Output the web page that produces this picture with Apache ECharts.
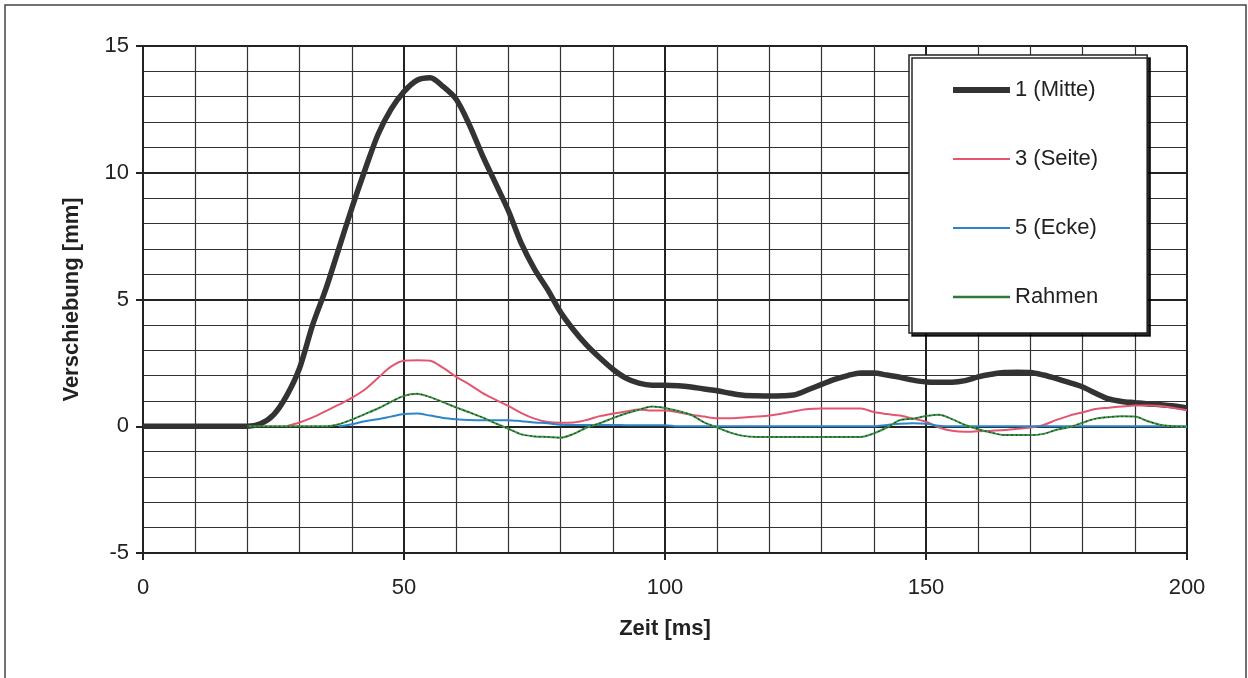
<!DOCTYPE html>
<html>
<head>
<meta charset="utf-8">
<script src="https://cdn.jsdelivr.net/npm/echarts@6/dist/echarts.min.js"></script>
<style>
  html, body { margin: 0; padding: 0; background: #fff; }
  #chart { width: 1248px; height: 678px; }
</style>
</head>
<body>
<div id="chart"></div>
<script>
// Zeitbasis in ms (Schrittweite 2,5 ms)
const zeit = [];
for (let i = 0; i <= 80; i++) zeit.push(i * 2.5);

// Verschiebung [mm], Messpunkt 1 (Mitte)
const mitte = [
  0, 0, 0, 0, 0, 0, 0, 0, 0, 0.1,
  0.45, 1.2, 2.3, 4.0, 5.4, 7.0, 8.6, 10.1, 11.5, 12.5,
  13.2, 13.65, 13.75, 13.4, 12.9, 11.9, 10.7, 9.6, 8.5, 7.2,
  6.2, 5.4, 4.5, 3.8, 3.2, 2.7, 2.25, 1.9, 1.7, 1.62,
  1.62, 1.6, 1.55, 1.47, 1.4, 1.3, 1.22, 1.2, 1.19, 1.2,
  1.25, 1.45, 1.65, 1.85, 2.0, 2.1, 2.1, 2.02, 1.93, 1.82,
  1.75, 1.74, 1.74, 1.8, 1.95, 2.05, 2.12, 2.13, 2.12, 2.02,
  1.88, 1.72, 1.55, 1.3, 1.08, 0.98, 0.93, 0.88, 0.85, 0.8,
  0.72
];

// Messpunkt 3 (Seite)
const seite = [
  null, null, null, null, null, null, null, null, null, null,
  null, 0.0, 0.15, 0.35, 0.6, 0.85, 1.12, 1.45, 1.9, 2.35,
  2.58, 2.6, 2.58, 2.3, 1.95, 1.65, 1.32, 1.05, 0.8, 0.52,
  0.3, 0.17, 0.14, 0.15, 0.25, 0.4, 0.5, 0.58, 0.66, 0.62,
  0.62, 0.55, 0.45, 0.38, 0.32, 0.32, 0.35, 0.38, 0.42, 0.5,
  0.6, 0.68, 0.7, 0.7, 0.7, 0.7, 0.56, 0.48, 0.42, 0.3,
  0.18, -0.05, -0.18, -0.22, -0.2, -0.18, -0.15, -0.1, -0.05, 0.05,
  0.25, 0.42, 0.55, 0.68, 0.73, 0.78, 0.82, 0.82, 0.8, 0.72,
  0.63
];

// Messpunkt 5 (Ecke)
const ecke = [
  null, null, null, null, null, null, null, null, null, null,
  null, null, null, null, null, 0.0, 0.08, 0.2, 0.28, 0.38,
  0.48, 0.5, 0.42, 0.33, 0.28, 0.25, 0.24, 0.24, 0.24, 0.2,
  0.15, 0.12, 0.06, 0.05, 0.05, 0.05, 0.05, 0.04, 0.04, 0.04,
  0.04, 0.0, 0.0, 0.0, 0.0, 0.0, 0.0, 0.0, 0.0, 0.0,
  0.0, 0.0, 0.0, 0.0, 0.0, 0.0, 0.0, 0.05, 0.1, 0.12,
  0.1, 0.02, 0.0, 0.0, 0.0, 0.0, 0.0, 0.0, 0.0, 0.0,
  0.0, 0.0, 0.0, 0.0, 0.0, 0.0, 0.0, 0.0, 0.0, 0.0,
  0.0
];

// Rahmen
const rahmen = [
  null, null, null, null, null, null, null, null, 0, 0,
  0, 0, 0, 0, 0, 0.08, 0.26, 0.48, 0.7, 0.96,
  1.2, 1.28, 1.15, 0.95, 0.74, 0.55, 0.35, 0.12, -0.1, -0.32,
  -0.4, -0.42, -0.45, -0.3, -0.05, 0.12, 0.32, 0.5, 0.65, 0.78,
  0.72, 0.6, 0.45, 0.15, -0.05, -0.25, -0.38, -0.42, -0.42, -0.42,
  -0.42, -0.42, -0.42, -0.42, -0.42, -0.42, -0.28, -0.05, 0.24, 0.3,
  0.4, 0.45, 0.28, 0.05, -0.12, -0.25, -0.35, -0.35, -0.35, -0.3,
  -0.14, -0.03, 0.14, 0.3, 0.36, 0.39, 0.38, 0.2, 0.05, 0.0,
  -0.03
];

const xTicks = { min: 0, max: 200, interval: 50 };
const yTicks = { min: -5, max: 15, interval: 5 };

const pairs = arr => zeit.map((t, i) => [t, arr[i]]);
const FONT = '"Liberation Sans", Arial, sans-serif';
const INK = '#222';

const chart = echarts.init(document.getElementById('chart'), null, { renderer: 'canvas' });

chart.setOption({
  backgroundColor: '#fff',
  animation: false,
  graphic: [{
    type: 'rect',
    shape: { x: 5, y: 5, width: 1241, height: 700 },
    style: { fill: 'none', stroke: '#444', lineWidth: 1.5 },
    z: -1
  }],
  grid: { left: 143, right: 61, top: 46, bottom: 125, containLabel: false },
  legend: {
    left: 909, top: 55,
    orient: 'vertical',
    data: [
      { name: '1 (Mitte)', lineStyle: { width: 6 } },
      { name: '3 (Seite)', lineStyle: { width: 2 } },
      { name: '5 (Ecke)', lineStyle: { width: 2 } },
      { name: 'Rahmen', lineStyle: { width: 2.5, color: '#2f7a3a' } }
    ],
    itemWidth: 57, itemHeight: 14, itemGap: 47,
    padding: [24, 49, 25, 41],
    itemStyle: { color: 'rgba(0,0,0,0)', borderWidth: 0, borderColor: 'rgba(0,0,0,0)' },
    backgroundColor: '#fff',
    borderColor: INK, borderWidth: 1.5,
    shadowColor: 'rgba(0,0,0,0.85)', shadowBlur: 0, shadowOffsetX: 3, shadowOffsetY: 3,
    textStyle: { fontFamily: FONT, fontSize: 22, color: INK }
  },
  xAxis: {
    type: 'value',
    min: xTicks.min, max: xTicks.max, interval: xTicks.interval,
    name: 'Zeit [ms]',
    nameLocation: 'middle', nameGap: 65,
    nameTextStyle: { fontFamily: FONT, fontSize: 22, fontWeight: 'bold', color: INK },
    axisLine: { show: true, onZero: false, lineStyle: { color: INK, width: 2 } },
    axisTick: { show: true, length: 7, lineStyle: { color: INK, width: 2 } },
    axisLabel: { fontFamily: FONT, fontSize: 22, color: INK, margin: 24 },
    splitLine: { show: true, lineStyle: { color: INK, width: 2 } },
    minorTick: { show: false, splitNumber: 5 },
    minorSplitLine: { show: true, lineStyle: { color: '#333', width: 1.2 } }
  },
  yAxis: {
    type: 'value',
    min: yTicks.min, max: yTicks.max, interval: yTicks.interval,
    name: 'Verschiebung [mm]',
    nameLocation: 'middle', nameGap: 60, nameRotate: 90,
    nameTextStyle: { fontFamily: FONT, fontSize: 22, fontWeight: 'bold', color: INK },
    axisLine: { show: true, lineStyle: { color: INK, width: 2 } },
    axisTick: { show: true, length: 7, lineStyle: { color: INK, width: 2 } },
    axisLabel: { fontFamily: FONT, fontSize: 22, color: INK, margin: 14 },
    splitLine: { show: true, lineStyle: { color: INK, width: 2 } },
    minorTick: { show: false, splitNumber: 5 },
    minorSplitLine: { show: true, lineStyle: { color: '#333', width: 1.2 } }
  },
  series: [
    {
      name: '1 (Mitte)', type: 'line', data: pairs(mitte),
      showSymbol: false, symbol: 'none', smooth: 0.3, z: 2,
      lineStyle: { color: '#333', width: 5.5 }, itemStyle: { color: '#333' }
    },
    {
      name: '3 (Seite)', type: 'line', data: pairs(seite),
      showSymbol: false, symbol: 'none', smooth: 0.3, z: 3,
      lineStyle: { color: '#e4566f', width: 2 }, itemStyle: { color: '#e4566f' }
    },
    {
      name: '5 (Ecke)', type: 'line', data: pairs(ecke),
      showSymbol: false, symbol: 'none', smooth: 0.3, z: 4,
      lineStyle: { color: '#2a86c8', width: 2 }, itemStyle: { color: '#2a86c8' }
    },
    {
      name: 'Rahmen', type: 'line', data: pairs(rahmen),
      showSymbol: false, symbol: 'none', smooth: 0.3, z: 5,
      lineStyle: { color: '#3f9448', width: 2 }, itemStyle: { color: '#3f9448' }
    },
    {
      // dunkle Punktierung auf der Rahmen-Linie
      name: 'Rahmen', type: 'line', data: pairs(rahmen),
      showSymbol: false, symbol: 'none', smooth: 0.3, z: 6,
      lineStyle: { color: '#1d3a22', width: 1.2, type: [1.5, 3] }, itemStyle: { color: '#3f9448' }
    }
  ]
});
</script>
</body>
</html>
